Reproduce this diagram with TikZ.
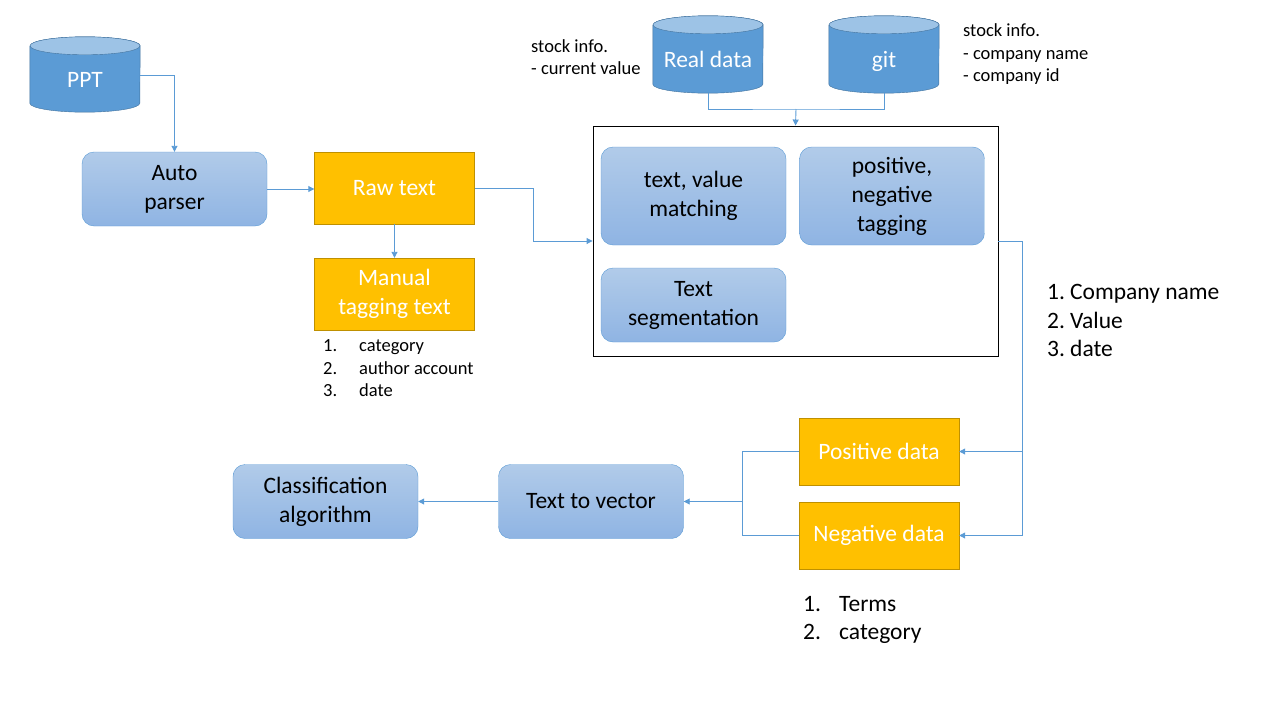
\documentclass[tikz,border=0pt]{standalone}
\usepackage{fontspec}
\setmainfont{Carlito}
\usepackage{xcolor}
\usepackage{tikz}
\usetikzlibrary{arrows.meta}

\definecolor{dbblue}{HTML}{5B9BD5}
\definecolor{dbtop}{HTML}{9DC3E6}
\definecolor{dbline}{HTML}{41719C}
\definecolor{proctop}{HTML}{B1CBE9}
\definecolor{procbot}{HTML}{8FB4E3}
\definecolor{orfill}{HTML}{FFC000}
\definecolor{orline}{HTML}{BF9000}
\newcommand\boxfont{\fontsize{23.5}{29}\selectfont}
\newcommand\notefont{\fontsize{18.5}{22.5}\selectfont}
\newcommand\listfont{\fontsize{23.5}{28.5}\selectfont}
% cylinder drawn round a named db node
\newcommand\dbdraw[1]{%
  \draw[dbline, fill=dbblue] (#1.north west) -- ([yshift=9pt]#1.south west)
    arc[start angle=180, end angle=360, x radius=55pt, y radius=9pt]
    -- (#1.north east) arc[start angle=0, end angle=180, x radius=55pt, y radius=9pt];
  \draw[dbline, fill=dbtop] (#1.north) ellipse[x radius=55pt, y radius=9pt];
}

\tikzset{
  db/.style={minimum width=110, minimum height=68, inner sep=0, text=white, font=\boxfont},
  dbtext/.style={db, text height=15pt, text depth=5pt, yshift=-3pt},
  proc/.style={rounded corners=12, draw=dbblue, top color=proctop, bottom color=procbot,
    minimum width=185, minimum height=74, inner sep=0, align=center, font=\boxfont},
  datum/.style={draw=orline, fill=orfill, text=white, minimum width=160,
    minimum height=72, inner sep=0, align=center, font=\boxfont},
  note/.style={anchor=west, inner sep=0, align=left},
  line/.style={draw=dbblue, line width=0.9},
  link/.style={line, -{Triangle[width=6pt,length=6pt]}}
}

\begin{document}
\begin{tikzpicture}[x=1pt,y=-1pt]
\useasboundingbox (0,0) rectangle (1280,720);
% sources
\node[db, minimum height=66] (ppt) at (85,79) {};
\node[db] (real) at (708,59) {};
\node[db] (git) at (884,59) {};
\dbdraw{ppt}
\dbdraw{real}
\dbdraw{git}
\node[dbtext] at (ppt) {PPT};
\node[dbtext] at (real) {Real data};
\node[dbtext] at (git) {git};
\node[note, font=\notefont] (realnote) at (531,57) {stock info.\\- current value};
\node[note, font=\notefont] (gitnote) at (963,54.5) {stock info.\\- company name\\- company id};

% parsing
\node[proc] (auto) at (174.5,189) {Auto\\parser};
\node[datum] (raw) at (394.5,188) {Raw text};
\node[datum] (manual) at (394.5,294) {Manual\\tagging text};
\node[note, font=\notefont] (manualnote) at (323,368.5)
  {\makebox[36pt][l]{1.}category\\\makebox[36pt][l]{2.}author account\\\makebox[36pt][l]{3.}date};

% analysis frame
\node[draw, line width=0.9, minimum width=405, minimum height=230, inner sep=0] (frame) at (795.5,241) {};
\node[proc, minimum height=98] (match) at (693.5,196) {text, value\\matching};
\node[proc, minimum height=98] (tagging) at (892,196) {positive,\\negative\\tagging};
\node[proc] (segment) at (693.5,305) {Text\\segmentation};
\node[note, font=\listfont] (framenote) at (1047,320.5)
  {\makebox[23pt][l]{1.}Company name\\\makebox[23pt][l]{2.}Value\\\makebox[23pt][l]{3.}date};

% training data
\node[datum, minimum height=67] (pos) at (879,451.5) {Positive data};
\node[datum, minimum height=67] (neg) at (879,535.5) {Negative data};
\node[note, font=\listfont] (datanote) at (803,620)
  {\makebox[36pt][l]{1.}Terms\\\makebox[36pt][l]{2.}category};
\node[proc] (t2v) at (591,501.5) {Text to vector};
\node[proc] (cls) at (325.5,501.5) {Classification\\algorithm};

% connectors
\draw[link] ([yshift=4pt]ppt.east) -| (auto.north);
\draw[link] (auto.east) -- (raw.west |- auto.east);
\draw[link] (raw) -- (manual);
\draw[link] (raw.east) -- ++(59,0) |- (frame.west);
\coordinate (join) at (796,109);
\draw[line] (real.south) |- (join) -| (git.south);
\draw[link] (join) -- (frame.north);
\draw[line] (frame.east) -- ++(24,0) coordinate (split);
\draw[link] (split) |- (pos.east);
\draw[link] (split) |- (neg.east);
\coordinate (merge) at (742,501.5);
\draw[line] (pos.west) -| (merge);
\draw[line] (neg.west) -| (merge);
\draw[link] (merge) -- (t2v.east);
\draw[link] (t2v) -- (cls);
\end{tikzpicture}
\end{document}
